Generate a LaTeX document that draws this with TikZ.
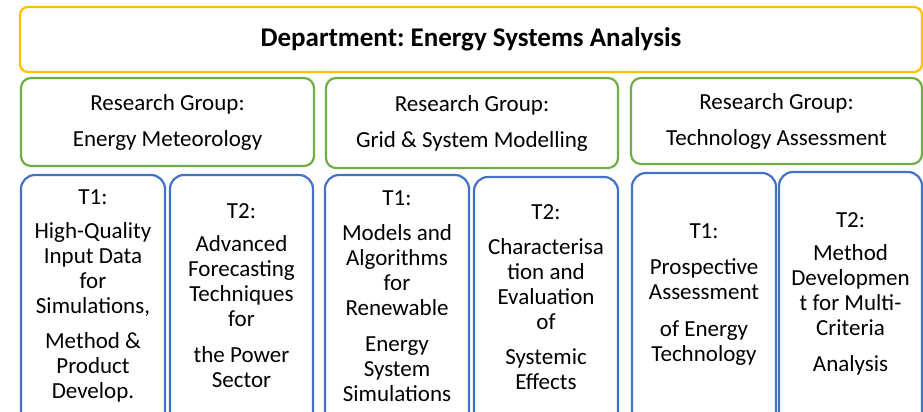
\documentclass[tikz,border=0pt]{standalone}
\usepackage{fontspec}
\setmainfont{Carlito}
\frenchspacing
\definecolor{deptgold}{HTML}{FFC000}
\definecolor{groupgreen}{HTML}{70AD47}
\definecolor{taskblue}{HTML}{4472C4}
\tikzset{
  dept/.style={draw=deptgold, line width=2.2pt, rounded corners=8pt, fill=white,
    font=\fontsize{27}{30}\selectfont\bfseries, align=center, inner sep=0pt},
  group/.style={draw=groupgreen, line width=2.2pt, rounded corners=10pt, fill=white,
    font=\fontsize{23}{25}\selectfont, align=center, inner sep=0pt},
  task/.style={draw=taskblue, line width=2.2pt, rounded corners=14pt, fill=white,
    minimum width=144pt, minimum height=270pt, inner sep=0pt},
  tasktext/.style={font=\fontsize{23}{25}\selectfont, align=center, inner sep=0pt}
}
\begin{document}
\begin{tikzpicture}[x=1pt,y=-1pt]
  \useasboundingbox (0,0) rectangle (923,412);
  \clip (0,0) rectangle (923,412);

  % department
  \node[dept, minimum width=902pt, minimum height=65pt] (dept) at (471,39.5)
    {Department: Energy Systems Analysis};

  % research groups
  \node[group, minimum width=293pt, minimum height=88pt] (gmet) at (167.5,122)
    {Research Group:\\[11pt]Energy Meteorology};
  \node[group, minimum width=292pt, minimum height=90pt] (ggrid) at (472,123)
    {Research Group:\\[11pt]Grid \& System Modelling};
  \node[group, minimum width=291pt, minimum height=86pt] (gtech) at (776.5,121)
    {Research Group:\\[11pt]Technology Assessment};

  % task boxes (they run on below the lower edge)
  \node[task] (met1) at (93,310) {};
  \node[task, minimum width=143pt] (met2) at (241.5,310) {};
  \node[task] (grid1) at (397,310) {};
  \node[task] (grid2) at (546,312) {};
  \node[task] (tech1) at (704,308) {};
  \node[task, minimum width=143pt] (tech2) at (850.5,307) {};

  % task texts
  \node[tasktext] (met1t) at (93,296)
    {T1:\\[9pt]High-Quality\\Input Data\\for\\Simulations,\\[10pt]Method \&\\Product\\Develop.};
  \node[tasktext] (met2t) at (241.5,296)
    {T2:\\[8pt]Advanced\\Forecasting\\Techniques\\for\\[11pt]the Power\\Sector};
  \node[tasktext] (grid1t) at (397,296)
    {T1:\\[10pt]Models and\\Algorithms\\for\\Renewable\\[11pt]Energy\\System\\Simulations};
  \node[tasktext] (grid2t) at (546,297)
    {T2:\\[10pt]Characterisa\\tion and\\Evaluation\\of\\[10pt]Systemic\\Effects};
  \node[tasktext] (tech1t) at (704,295)
    {T1:\\[11pt]Prospective\\Assessment\\[12pt]of Energy\\Technology};
  \node[tasktext] (tech2t) at (850.5,294)
    {T2:\\[8pt]Method\\Developmen\\t for Multi-\\Criteria\\[11pt]Analysis};
\end{tikzpicture}
\end{document}
